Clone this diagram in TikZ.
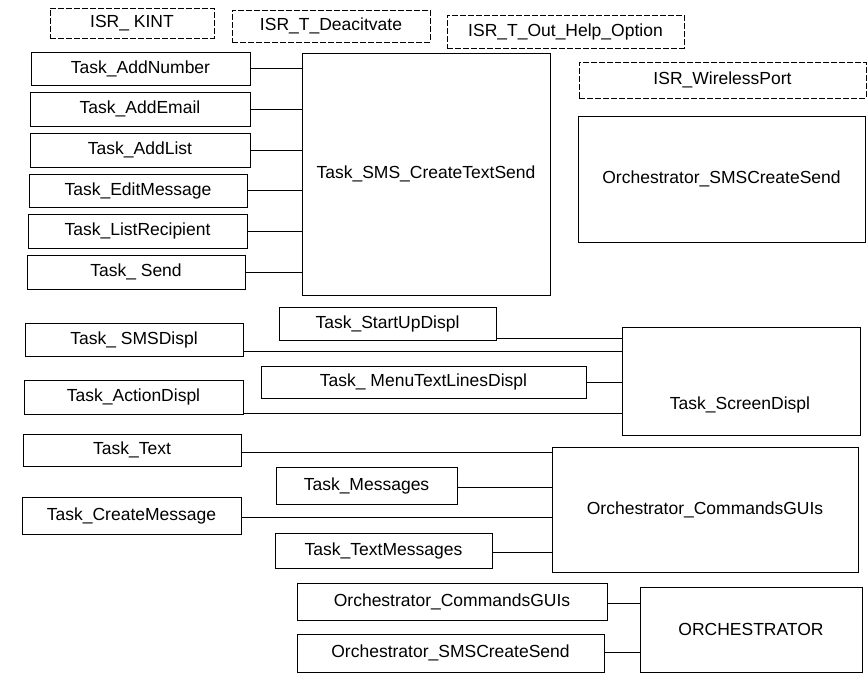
\documentclass[tikz,border=0pt]{standalone}
\usepackage{fontspec}
\setmainfont{Liberation Sans}
\begin{document}
\begin{tikzpicture}[x=1pt,y=-1pt,
  box/.style={draw, line width=0.8pt, inner sep=0pt, font=\fontsize{17.5}{20}\selectfont},
  isrbox/.style={box, dash pattern=on 6pt off 2pt},
  lbl/.style={inner sep=0pt, font=\fontsize{17.5}{20}\selectfont},
  wire/.style={draw, line width=0.8pt}]
\useasboundingbox (0,0) rectangle (867,675);
% ISR boxes
\node[isrbox, minimum width=164pt, minimum height=30pt] (isr1) at (132,23) {ISR\_ KINT};
\node[isrbox, minimum width=198pt, minimum height=32pt] (isr2) at (331,26) {ISR\_T\_Deacitvate};
\node[isrbox, minimum width=237pt, minimum height=33pt] (isr3) at (565.5,31.5) {ISR\_T\_Out\_Help\_Option};
\node[isrbox, minimum width=287pt, minimum height=36pt] (wport) at (722.5,80) {ISR\_WirelessPort};
% SMS create group
\node[box, minimum width=219pt, minimum height=33pt] (addnum) at (140.5,68.5) {Task\_AddNumber};
\node[box, minimum width=220pt, minimum height=34pt] (addemail) at (140,109) {Task\_AddEmail};
\node[box, minimum width=220pt, minimum height=34pt] (addlist) at (140,150) {Task\_AddList};
\node[box, minimum width=218pt, minimum height=33pt] (editmsg) at (138,190.5) {Task\_EditMessage};
\node[box, minimum width=219pt, minimum height=34pt] (listrec) at (137.5,231) {Task\_ListRecipient};
\node[box, minimum width=218pt, minimum height=34pt] (send) at (136,272) {Task\_ Send};
\node[box, minimum width=248pt, minimum height=242pt] (smsbig) at (426,174) {Task\_SMS\_CreateTextSend};
\node[box, minimum width=287pt, minimum height=126pt] (orchsms) at (721.5,179) {Orchestrator\_SMSCreateSend};
\foreach \n in {addnum,addemail,addlist,editmsg,listrec,send}
  \draw[wire] (\n.east) -- (\n.east -| smsbig.west);
% Screen display group
\node[box, minimum width=217pt, minimum height=33pt] (startup) at (387.5,323.5) {Task\_StartUpDispl};
\node[box, minimum width=218pt, minimum height=33pt] (smsdispl) at (134,339.5) {Task\_ SMSDispl};
\node[box, minimum width=325pt, minimum height=32pt] (menutext) at (423.5,382) {Task\_ MenuTextLinesDispl};
\node[box, minimum width=219pt, minimum height=34pt] (actdispl) at (133.5,397) {Task\_ActionDispl};
\node[box, minimum width=238pt, minimum height=108pt] (screen) at (741,381) {};
\node[lbl] (screenlbl) at (740,405) {Task\_ScreenDispl};
\draw[wire] ([yshift=2pt]startup.south east) coordinate (p1) -- (p1 -| screen.west);
\draw[wire] ([yshift=5pt]smsdispl.south east) coordinate (p2) -- (p2 -| screen.west);
\draw[wire] (menutext.east) -- (menutext.east -| screen.west);
\draw[wire] ([yshift=1pt]actdispl.south east) coordinate (p3) -- (p3 -| screen.west);
% Commands GUIs group
\node[box, minimum width=218pt, minimum height=32pt] (text) at (132,450) {Task\_Text};
\node[box, minimum width=181pt, minimum height=37pt] (messages) at (366.5,485.5) {Task\_Messages};
\node[box, minimum width=219pt, minimum height=37pt] (createmsg) at (131.5,515.5) {Task\_CreateMessage};
\node[box, minimum width=217pt, minimum height=35pt] (textmsgs) at (383.5,550.5) {Task\_TextMessages};
\node[box, minimum width=306pt, minimum height=125pt] (cmdbig) at (705,509.5) {Orchestrator\_CommandsGUIs};
\draw[wire] ([yshift=-2pt]text.east) coordinate (q1) -- (q1 -| cmdbig.west);
\draw[wire] ([yshift=-2pt]messages.east) coordinate (q2) -- (q2 -| cmdbig.west);
\draw[wire] ([yshift=-2pt]createmsg.east) coordinate (q3) -- (q3 -| cmdbig.west);
\draw[wire] ([yshift=-2pt]textmsgs.east) coordinate (q4) -- (q4 -| cmdbig.west);
% Orchestrator group
\node[box, minimum width=310pt, minimum height=37pt] (cmdsmall) at (452,601.5) {Orchestrator\_CommandsGUIs};
\node[box, minimum width=307pt, minimum height=38pt] (smssmall) at (450.5,653) {Orchestrator\_SMSCreateSend};
\node[box, minimum width=222pt, minimum height=85pt] (orch) at (751,629.5) {ORCHESTRATOR};
\draw[wire] ([yshift=-1.5pt]cmdsmall.east) coordinate (r1) -- (r1 -| orch.west);
\draw[wire] ([yshift=1pt]smssmall.east) coordinate (r2) -- (r2 -| orch.west);
\end{tikzpicture}
\end{document}
